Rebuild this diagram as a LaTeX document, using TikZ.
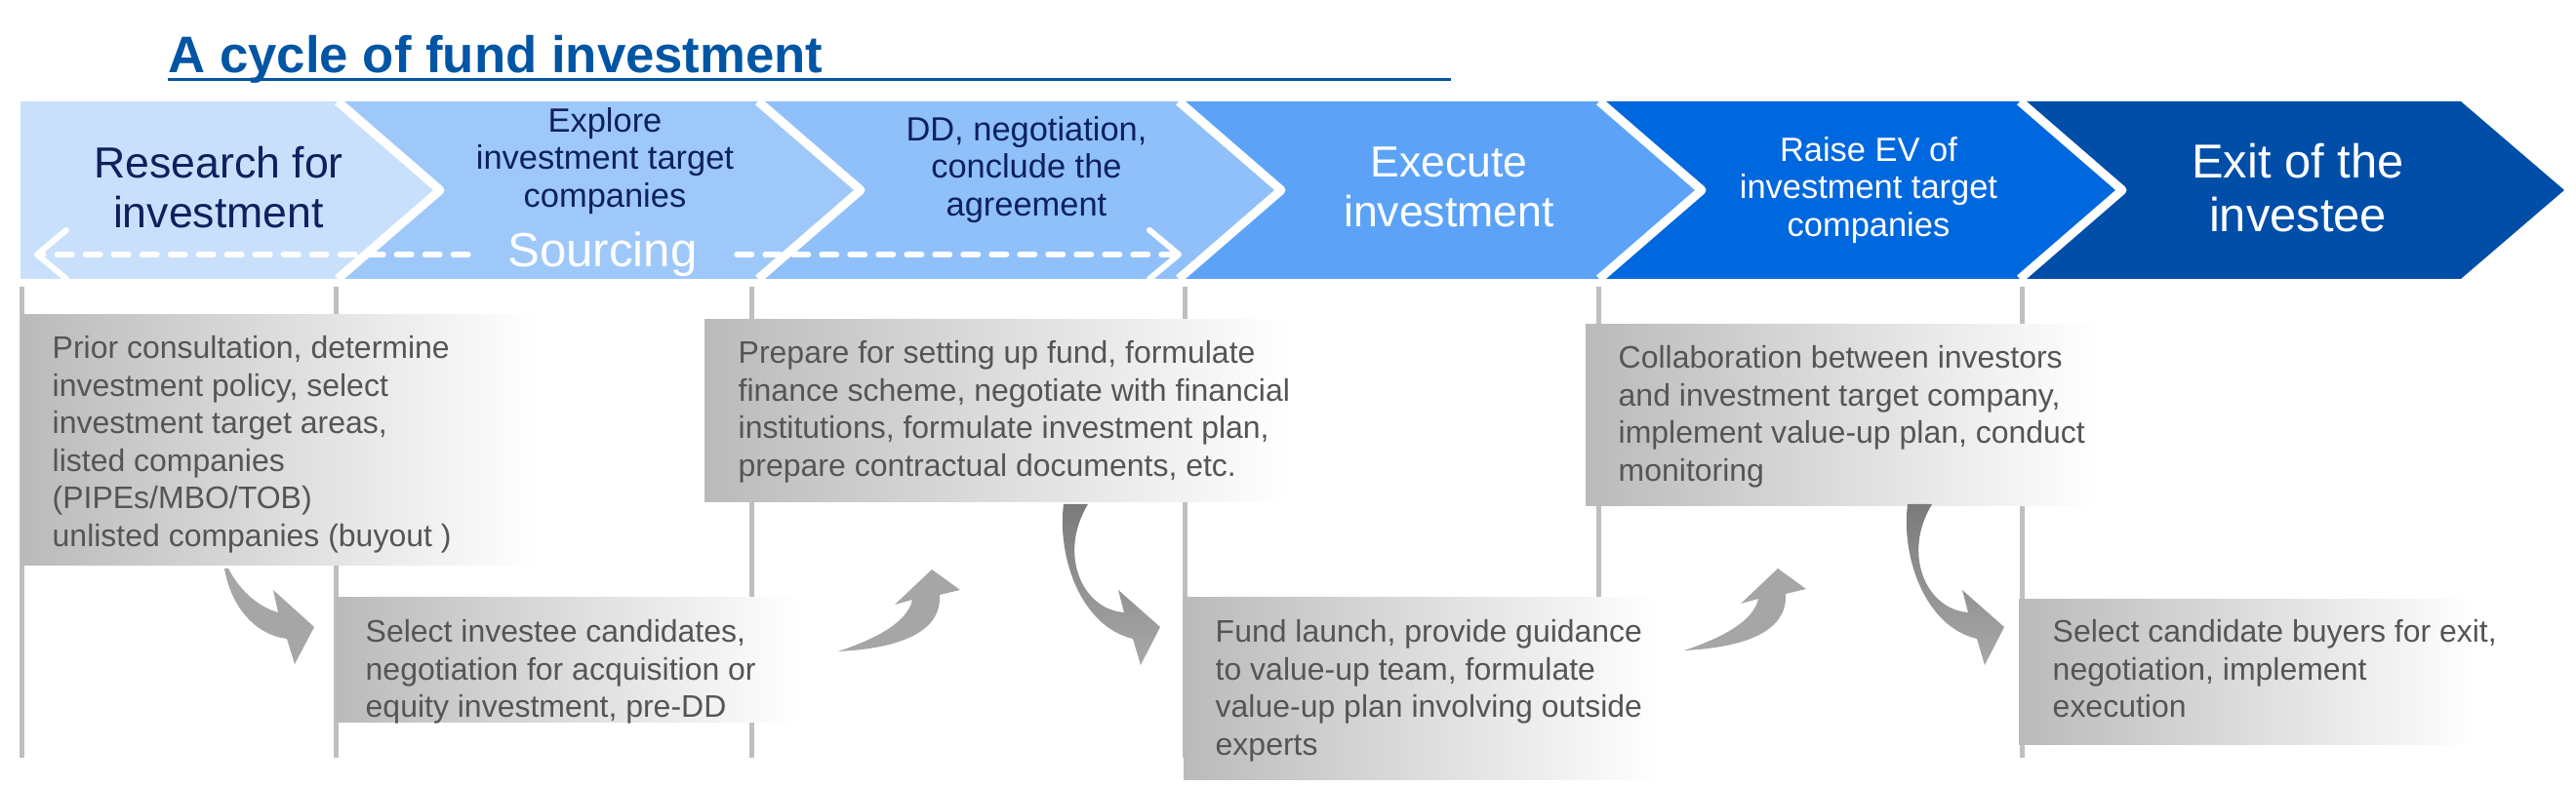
\documentclass[tikz,border=0pt]{standalone}
\usepackage{fontspec}
\setmainfont{Liberation Sans}
\usepackage{tikz}
\usetikzlibrary{arrows.meta}
\definecolor{titleblue}{HTML}{0055A4}
\definecolor{navy}{HTML}{0D215E}
\definecolor{chevA}{HTML}{C9E0FC}
\definecolor{chevB}{HTML}{9EC8FA}
\definecolor{chevC}{HTML}{8FC0FA}
\definecolor{chevD}{HTML}{5CA3F8}
\definecolor{chevE}{HTML}{0068DE}
\definecolor{chevF}{HTML}{004EA8}
\definecolor{rulegray}{HTML}{BFBFBF}
\definecolor{cardgray}{HTML}{555555}

\begin{document}
\begin{tikzpicture}[
  headline/.style={font=\fontsize{15}{18}\selectfont\bfseries, text=titleblue,
                   inner sep=0pt},
  titlerule/.style={line width=0.035cm, titleblue},
  sep/.style={white, line width=0.09cm, line join=round},
  guide/.style={line width=0.05cm, rulegray},
  card/.style={left color=black!27, right color=white},
  cardtext/.style={anchor=north west, align=left, inner sep=0pt,
                   text=cardgray, font=\fontsize{9.1}{10.95}\selectfont},
  headdark/.style={align=center, inner sep=0pt, text=navy},
  headlight/.style={align=center, inner sep=0pt, text=white},
  bigfont/.style={font=\fontsize{12.7}{14.6}\selectfont},
  midfont/.style={font=\fontsize{9.8}{10.95}\selectfont},
  srctext/.style={font=\fontsize{14}{16}\selectfont, text=white,
                  inner xsep=0.40cm, inner ysep=0pt},
  srcline/.style={white, line width=0.06cm, line cap=round,
                  dash pattern=on 0.15cm off 0.14cm,
                  -{Straight Barb[length=3mm,width=5mm,round]}},
  turn/.style={fill=black!35},
  deepturn/.style={top color=black!52, bottom color=black!34}]
\useasboundingbox (0,0) rectangle (26.40,8.06);

% ---- title ---------------------------------------------------------------
\node[headline, anchor=base west] (title) at (1.72,7.31)
  {A cycle of fund investment};
\draw[titlerule] (1.72,7.245) -- (14.87,7.245);

% ---- the six stages, band from y=5.20 to y=7.02 ---------------------------
\fill[chevA] (0.21,7.02) -- (3.46,7.02) -- (4.51,6.11) -- (3.46,5.20)
  -- (0.21,5.20) -- cycle;
\foreach \xl/\col in {3.46/chevB, 7.77/chevC, 12.08/chevD, 16.39/chevE}
  \fill[\col] (\xl,7.02) -- ++(4.31,0) -- ++(1.05,-0.91) -- ++(-1.05,-0.91)
    -- ++(-4.31,0) -- ++(1.05,0.91) -- cycle;
\fill[chevF] (20.70,7.02) -- (25.22,7.02) -- (26.28,6.11) -- (25.22,5.20)
  -- (20.70,5.20) -- (21.75,6.11) -- cycle;
\foreach \xs in {3.46,7.77,12.08,16.39,20.70}
  \draw[sep] (\xs,7.02) -- ++(1.05,-0.91) -- ++(-1.05,-0.91);

\node[headdark, bigfont] (research) at (2.24,6.14) {Research for\\investment};
\node[headdark, midfont] (explore) at (6.20,6.41)
  {Explore\\investment target\\companies};
\node[headdark, midfont] (agree) at (10.52,6.32)
  {DD, negotiation,\\conclude the\\agreement};
\node[headlight, bigfont] (execute) at (14.85,6.14) {Execute\\investment};
\node[headlight, midfont] (raise) at (19.15,6.11)
  {Raise EV of\\investment target\\companies};
\node[headlight, font=\fontsize{13.9}{15.6}\selectfont] (exitinv)
  at (23.55,6.135) {Exit of the\\investee};

% ---- sourcing runs over the first three stages ---------------------------
\node[srctext] (sourcing) at (6.175,5.45) {Sourcing};
\coordinate (srcL) at (0.35,5.45);
\coordinate (srcR) at (12.11,5.45);
\draw[srcline] (sourcing) -- (srcL);
\draw[srcline] (sourcing) -- (srcR);

% ---- grey guides under the stage boundaries -------------------------------
\foreach \xv in {0.22,3.44,7.70,12.14,16.38,20.72}
  \draw[guide] (\xv,5.12) -- (\xv,0.29);

% ---- the six cards, upper row and lower row -------------------------------
\shade[card] (0.22,2.26) rectangle (5.50,4.83);
\shade[card] (3.44,0.65) rectangle (8.20,1.93);
\shade[card] (7.22,2.91) rectangle (13.20,4.78);
\shade[card] (12.13,0.06) rectangle (17.00,1.93);
\shade[card] (16.25,2.87) rectangle (21.50,4.73);
\shade[card] (20.69,0.42) rectangle (25.40,1.91);

\node[cardtext] (prior) at (0.53,4.62)
  {Prior consultation, determine\\investment policy, select\\
   investment target areas,\\listed companies\\(PIPEs/MBO/TOB)\\
   unlisted companies (buyout )};
\node[cardtext] (select) at (3.74,1.71)
  {Select investee candidates,\\negotiation for acquisition or\\
   equity investment, pre-DD};
\node[cardtext] (prepare) at (7.56,4.57)
  {Prepare for setting up fund, formulate\\
   finance scheme, negotiate with financial\\
   institutions, formulate investment plan,\\
   prepare contractual documents, etc.};
\node[cardtext] (launch) at (12.45,1.71)
  {Fund launch, provide guidance\\to value-up team, formulate\\
   value-up plan involving outside\\experts};
\node[cardtext] (collab) at (16.58,4.52)
  {Collaboration between investors\\and investment target company,\\
   implement value-up plan, conduct\\monitoring};
\node[cardtext] (exitbuy) at (21.03,1.71)
  {Select candidate buyers for exit,\\negotiation, implement\\execution};

% ---- turning arrows, drawn in 0.1mm steps round their tips ---------------
\coordinate (turnA) at (3.22,1.63);
\coordinate (turnB) at (9.55,2.22);
\coordinate (turnC) at (11.89,1.63);
\coordinate (turnD) at (18.22,2.23);
\coordinate (turnE) at (20.54,1.63);

\begin{scope}[shift={(turnA)}, x=0.1mm, y=0.1mm]
  \fill[turn] (-92,60) .. controls (-85,20) and (-60,-8) .. (-28,-12)
    -- (-20,-38) -- (0,0) -- (-42,38) -- (-37,15)
    .. controls (-55,20) and (-75,35) .. (-88,60) -- cycle;
\end{scope}
\foreach \tip in {turnC,turnE}{
  \begin{scope}[shift={(\tip)}, x=0.1mm, y=0.1mm]
    \shade[deepturn] (-99,126) .. controls (-106,70) and (-80,0) .. (-28,-12)
      -- (-20,-39) -- (0,0) -- (-43,38) -- (-37,15)
      .. controls (-80,18) and (-105,75) .. (-74,126) -- cycle;
  \end{scope}}
\foreach \tip in {turnB,turnD}{
  \begin{scope}[shift={(\tip)}, x=0.1mm, y=0.1mm]
    \fill[turn] (-96,-84) .. controls (-60,-72) and (-25,-55) .. (-20,-31)
      -- (-38,-36) -- (0,0) -- (29,-21) -- (8,-26)
      .. controls (10,-55) and (-15,-80) .. (-96,-84) -- cycle;
  \end{scope}}
\end{tikzpicture}
\end{document}
